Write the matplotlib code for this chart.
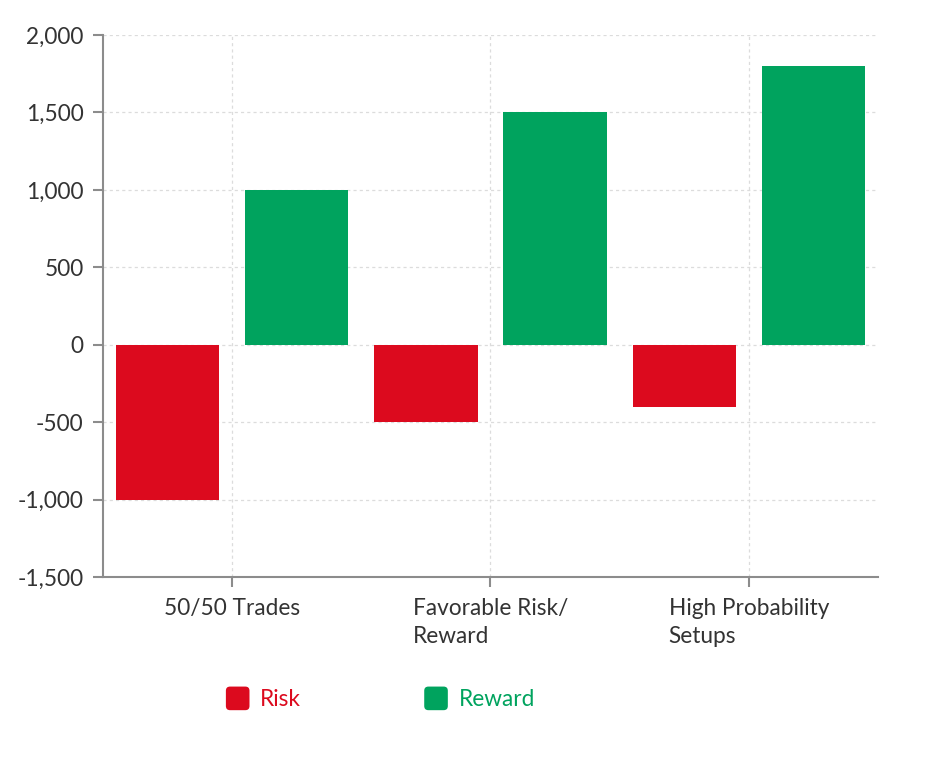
import matplotlib
matplotlib.use('Agg')
import matplotlib.pyplot as plt
from matplotlib.patches import FancyBboxPatch, Patch
from matplotlib.legend_handler import HandlerPatch
from matplotlib.ticker import FuncFormatter
import numpy as np

plt.rcParams['font.family'] = ['Lato', 'DejaVu Sans']

categories = ['50/50 Trades', 'Favorable Risk/\nReward', 'High Probability\nSetups']
risk = [-1000, -500, -400]
reward = [1000, 1500, 1800]
yticks = [-1500, -1000, -500, 0, 500, 1000, 1500, 2000]

red = '#dc0a1e'
green = '#00a35e'
txt = '#333333'
axis_gray = '#8c8c8c'
fs = 16.3

fig = plt.figure(figsize=(9.34, 7.59), dpi=100)
ax = fig.add_axes([0.1103, 0.2398, 0.8297, 0.7141])

x = np.arange(len(categories))
ax.bar(x - 0.25, risk, width=0.4, color=red, label='Risk', zorder=3)
ax.bar(x + 0.25, reward, width=0.4, color=green, label='Reward', zorder=3)

ax.set_xlim(-0.5, 2.5)
ax.set_ylim(-1500, 2000)
ax.set_yticks(yticks)
ax.yaxis.set_major_formatter(FuncFormatter(lambda v, p: f'{int(v):,}'))
ax.set_xticks(x)
ax.set_xticklabels(categories, ha='center', multialignment='left', linespacing=1.45)

ax.grid(True, color='#dcdcdc', linestyle=(0, (2.5, 2.5)), linewidth=0.9, zorder=0)
for s in ['top', 'right']:
    ax.spines[s].set_visible(False)
for s in ['left', 'bottom']:
    ax.spines[s].set_color(axis_gray)
    ax.spines[s].set_linewidth(1.5)
ax.tick_params(axis='y', length=7, width=1.5, color=axis_gray, labelsize=fs,
               labelcolor=txt, pad=7)
ax.tick_params(axis='x', length=7, width=1.5, color=axis_gray, labelsize=fs,
               labelcolor=txt, pad=8)


def rounded_square(legend, orig_handle, xdescent, ydescent, width, height, fontsize):
    size = 17
    cx = -xdescent + width / 2
    cy = -ydescent + height / 2
    return FancyBboxPatch((cx - size / 2, cy - size / 2), size, size,
                          boxstyle='round,pad=0,rounding_size=3')


handles = [Patch(facecolor=red, label='Risk'), Patch(facecolor=green, label='Reward')]
leg = fig.legend(handles=handles, loc='center', bbox_to_anchor=(0.407, 0.078),
                 ncol=2, frameon=False, fontsize=fs, handlelength=1.1,
                 handletextpad=0.45, columnspacing=5.4,
                 handler_map={Patch: HandlerPatch(patch_func=rounded_square)})
for t, c in zip(leg.get_texts(), [red, green]):
    t.set_color(c)

fig.savefig('out.png', dpi=100)
